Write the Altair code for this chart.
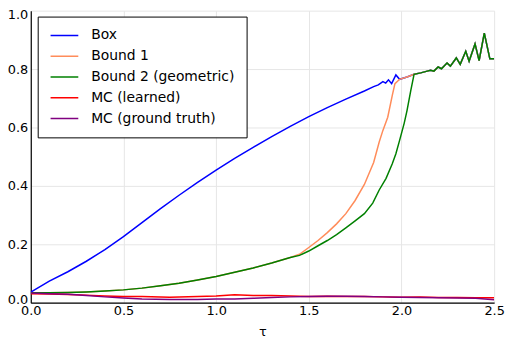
import altair as alt
import pandas as pd

# ---- data ----
series_names = ["Box", "Bound 1", "Bound 2 (geometric)", "MC (learned)", "MC (ground truth)"]
series_colors = ["#0000ff", "#ff8c5a", "#008000", "#ff0000", "#800080"]

# common high-tau tail shared by Box / Bound 1 / Bound 2
tail_tau = [2.068, 2.104, 2.139, 2.157, 2.175, 2.198, 2.216, 2.246, 2.264, 2.296,
            2.317, 2.347, 2.365, 2.397, 2.419, 2.447, 2.477, 2.5]
tail_val = [0.782, 0.787, 0.793, 0.796, 0.793, 0.807, 0.801, 0.821, 0.810, 0.838,
            0.816, 0.861, 0.827, 0.886, 0.829, 0.923, 0.835, 0.835]

box_tau = [0.0, 0.1, 0.2, 0.3, 0.4, 0.5, 0.6, 0.7, 0.8, 0.9, 1.0, 1.1, 1.2, 1.3, 1.4,
           1.5, 1.6, 1.7, 1.8, 1.85, 1.875, 1.9, 1.915, 1.93, 1.947, 1.97, 1.99, 2.03]
box_val = [0.036, 0.074, 0.106, 0.142, 0.182, 0.226, 0.274, 0.322, 0.368, 0.412, 0.454,
           0.494, 0.532, 0.569, 0.604, 0.637, 0.668, 0.697, 0.725, 0.740, 0.746, 0.757,
           0.752, 0.763, 0.750, 0.780, 0.765, 0.773]

bound_low_tau = [0.0, 0.1, 0.2, 0.3, 0.4, 0.5, 0.6, 0.7, 0.8, 0.9, 1.0, 1.1, 1.2, 1.3, 1.4]
bound_low_val = [0.034, 0.034, 0.035, 0.037, 0.040, 0.044, 0.050, 0.058, 0.067, 0.078,
                 0.090, 0.104, 0.119, 0.136, 0.155]

b1_tau = [1.45, 1.5, 1.55, 1.6, 1.65, 1.7, 1.75, 1.8, 1.85, 1.88, 1.9, 1.926, 1.952,
          1.965, 1.99, 2.03]
b1_val = [0.166, 0.189, 0.213, 0.240, 0.270, 0.305, 0.350, 0.405, 0.480, 0.550, 0.590,
          0.635, 0.714, 0.750, 0.765, 0.773]

b2_tau = [1.45, 1.5, 1.55, 1.6, 1.65, 1.7, 1.75, 1.8, 1.845, 1.88, 1.917, 1.95, 1.97,
          1.99, 2.015, 2.03, 2.05]
b2_val = [0.162, 0.177, 0.195, 0.213, 0.233, 0.256, 0.280, 0.305, 0.341, 0.386, 0.426,
          0.475, 0.510, 0.556, 0.615, 0.658, 0.725]

mc_l_tau = [0.0, 0.1, 0.2, 0.3, 0.4, 0.5, 0.6, 0.75, 0.9, 1.0, 1.1, 1.2, 1.3, 1.4, 1.5,
            1.6, 1.7, 1.8, 1.9, 2.0, 2.1, 2.2, 2.3, 2.4, 2.5]
mc_l_val = [0.031, 0.030, 0.028, 0.026, 0.023, 0.021, 0.021, 0.019, 0.021, 0.023, 0.027,
            0.025, 0.025, 0.023, 0.021, 0.022, 0.021, 0.021, 0.020, 0.019, 0.020, 0.018,
            0.018, 0.017, 0.017]

mc_g_tau = [0.0, 0.1, 0.2, 0.3, 0.4, 0.5, 0.6, 0.75, 0.9, 1.0, 1.1, 1.2, 1.3, 1.4, 1.5,
            1.6, 1.7, 1.8, 1.9, 2.0, 2.1, 2.2, 2.3, 2.4, 2.45, 2.5]
mc_g_val = [0.033, 0.031, 0.029, 0.025, 0.020, 0.016, 0.013, 0.011, 0.011, 0.0125, 0.013,
            0.015, 0.018, 0.020, 0.021, 0.0225, 0.022, 0.021, 0.020, 0.019, 0.018, 0.017,
            0.016, 0.015, 0.013, 0.010]

x_ticks = [0.0, 0.5, 1.0, 1.5, 2.0, 2.5]
y_ticks = [0.0, 0.2, 0.4, 0.6, 0.8, 1.0]

# ---- build long table ----
rows = []
def add(name, taus, vals):
    for t, v in zip(taus, vals):
        rows.append({"tau": t, "value": v, "series": name})

add(series_names[0], box_tau + tail_tau, box_val + tail_val)
add(series_names[1], bound_low_tau + b1_tau + tail_tau, bound_low_val + b1_val + tail_val)
add(series_names[2], bound_low_tau + b2_tau + tail_tau, bound_low_val + b2_val + tail_val)
add(series_names[3], mc_l_tau, mc_l_val)
add(series_names[4], mc_g_tau, mc_g_val)
df = pd.DataFrame(rows)

FONT = "DejaVu Sans"

chart = alt.Chart(df).mark_line(strokeWidth=1.5, clip=True).encode(
    x=alt.X("tau:Q",
            scale=alt.Scale(domain=[0, 2.5], nice=False, zero=False),
            axis=alt.Axis(values=x_ticks, format=".1f", title="τ", labelFlush=False,
                          labelPadding=2, titlePadding=8)),
    y=alt.Y("value:Q",
            scale=alt.Scale(domain=[0, 1], nice=False),
            axis=alt.Axis(values=y_ticks, format=".1f", title=None, labelPadding=3,
                          labelFlush=False,
                          labelOffset={"condition": [
                              {"test": "datum.value >= 0.99", "value": 4},
                              {"test": "datum.value <= 0.01", "value": -3}],
                              "value": 0})),
    color=alt.Color("series:N",
                    scale=alt.Scale(domain=series_names, range=series_colors),
                    sort=series_names,
                    legend=alt.Legend(title=None, orient="none", legendX=7, legendY=6)),
    order=alt.Order("tau:Q"),
).properties(
    width=468,
    height=295,
    autosize=alt.AutoSizeParams(type="none"),
    padding={"left": 23, "top": 1, "right": 12, "bottom": 38},
).configure_view(
    stroke=None
).configure_axis(
    domainColor="black",
    domainWidth=1.2,
    ticks=False,
    gridColor="#e6e6e6",
    gridWidth=1,
    labelFont=FONT,
    labelFontSize=13,
    labelColor="black",
    titleFont=FONT,
    titleFontSize=13,
    titleFontWeight="normal",
    titleColor="black",
).configure_legend(
    strokeColor="black",
    fillColor="white",
    padding=12,
    cornerRadius=0,
    labelFont=FONT,
    labelFontSize=14,
    labelColor="black",
    labelOffset=12,
    symbolType="stroke",
    symbolSize=784,
    symbolStrokeWidth=1.5,
    clipHeight=14,
    rowPadding=7,
)

chart.save("out.html", embed_options={"renderer": "svg", "actions": False})
